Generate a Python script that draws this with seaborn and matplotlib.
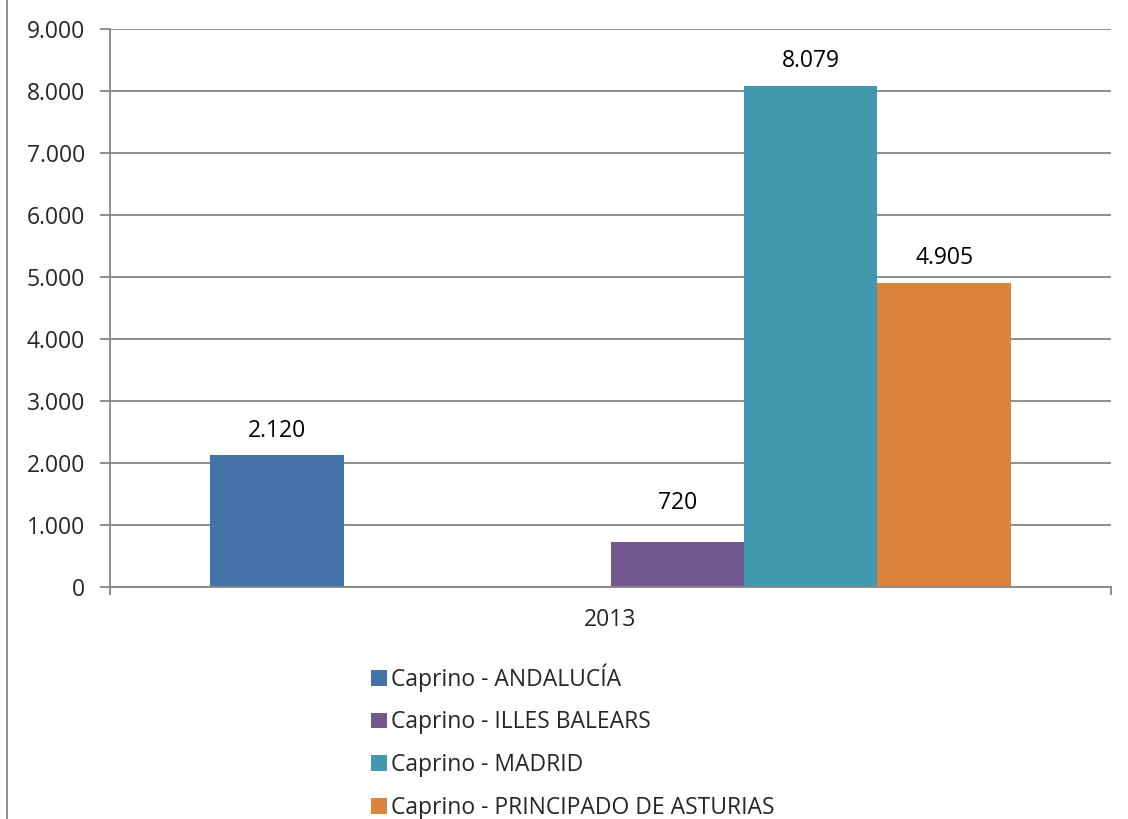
import pandas as pd
import numpy as np
import seaborn as sns
import matplotlib.pyplot as plt
from matplotlib.patches import Patch
from matplotlib.lines import Line2D

# data
years = ["2013"]
series = ["Caprino - ANDALUCÍA", "hueco 1", "hueco 2",
          "Caprino - ILLES BALEARS", "Caprino - MADRID",
          "Caprino - PRINCIPADO DE ASTURIAS"]
values = [2120, 0, 0, 720, 8079, 4905]
colors = ["#4572A7", "#FFFFFF", "#FFFFFF", "#71588F", "#4198AF", "#DB843D"]
legend_series = ["Caprino - ANDALUCÍA", "Caprino - ILLES BALEARS",
                 "Caprino - MADRID", "Caprino - PRINCIPADO DE ASTURIAS"]
yticks = [0, 1000, 2000, 3000, 4000, 5000, 6000, 7000, 8000, 9000]

def fmt(v):
    return f"{v:,.0f}".replace(",", ".")

df = pd.DataFrame({"year": years * len(series), "serie": series, "value": values})

sns.set_style("white")
plt.rcParams['font.family'] = ['Open Sans', 'DejaVu Sans']
grey = "#868686"
fs = 16.5

fig = plt.figure(figsize=(11.28, 8.19), dpi=100)
ax = fig.add_axes([110 / 1128, 1 - 587 / 819, 1001 / 1128, 558.5 / 819])

sns.barplot(data=df, x="year", y="value", hue="serie", hue_order=series,
            palette=colors, saturation=1, width=0.8, gap=0, linewidth=0,
            legend=False, ax=ax)

# data labels (the small one sits a bit higher, as in the original)
for cont, v in zip(ax.containers, values):
    if v > 0:
        pad = 20 if v < 1000 else 9
        ax.bar_label(cont, labels=[fmt(v)], padding=pad, fontsize=fs, color="black")

ax.set_xlim(-0.5, 0.5)
ax.set_ylim(0, 9000)
ax.set_yticks(yticks)
ax.set_yticklabels([fmt(t) for t in yticks], fontsize=fs)
ax.yaxis.grid(True, color=grey, linewidth=1.3)
ax.set_axisbelow(True)
ax.tick_params(axis="y", length=7, width=1.3, color=grey, pad=11, left=True)
ax.set_xticks([0])
ax.set_xticklabels(years, fontsize=fs)
ax.set_xticks([-0.5, 0.5], minor=True)
ax.tick_params(axis="x", which="major", length=0, pad=15)
ax.tick_params(axis="x", which="minor", length=6, width=1.3, color=grey, bottom=True)
ax.set_xlabel("")
ax.set_ylabel("")
for s in ["top", "right"]:
    ax.spines[s].set_visible(False)
for s in ["left", "bottom"]:
    ax.spines[s].set_color(grey)
    ax.spines[s].set_linewidth(1.3)

# legend with only the series that have data
handles = [Patch(facecolor=colors[series.index(s)], edgecolor="none") for s in legend_series]
fig.legend(handles, legend_series, loc="upper left",
           bbox_to_anchor=(362 / 1128, 1 - 654 / 819), frameon=False,
           fontsize=fs, handlelength=0.68, handleheight=0.68,
           handletextpad=0.2, labelspacing=0.82, borderaxespad=0)

# outer chart border on the left
fig.add_artist(Line2D([7 / 1128, 7 / 1128], [0, 1], color=grey, linewidth=1.3))

fig.savefig("out.png", dpi=100)
